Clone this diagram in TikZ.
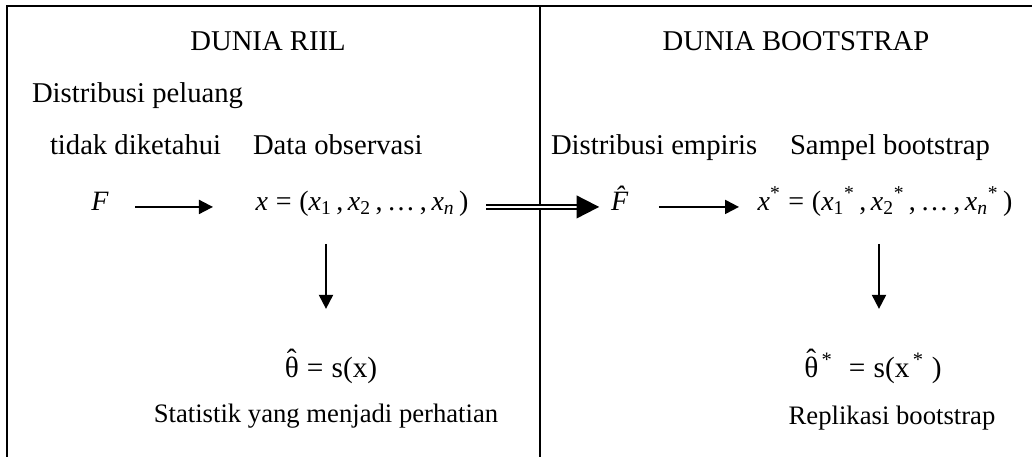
\documentclass[tikz,border=0pt]{standalone}
\usepackage{fontspec}
\setmainfont{Liberation Serif}
\usetikzlibrary{arrows.meta,positioning}
\tikzset{
  txt/.style={
    inner sep=0pt, outer sep=0pt,
    anchor=base,
    font=\fontsize{21.5}{25}\selectfont
  },
  note/.style={txt, font=\fontsize{20}{24}\selectfont},
  eq/.style={txt, font=\fontsize{21}{25}\selectfont},
  arr/.style={line width=1.5pt, -{Triangle[length=10.5pt,width=10.5pt]}},
  dblarr/.style={
    double, double distance=2pt, line width=1.5pt,
    -{Triangle[length=17pt,width=17pt]}
  },
  frame/.style={line width=1.5pt}
}
\newcommand{\ix}{\textit{x}}
\newcommand{\thetahat}{\accent"02C6 θ}

\begin{document}
\begin{tikzpicture}[x=0.75pt, y=-0.75pt]
    \useasboundingbox (0,0) rectangle (1032,457);

    %% Frame
    \draw[frame] (1032,6) -- (7,6) -- (7,457);
    \draw[frame] (540,6) -- (540,457);

    %% Headers
    \node[txt] (realworld) at (268,50) {DUNIA RIIL};
    \node[txt] (bootworld) at (796,50) {DUNIA BOOTSTRAP};
    \node[txt, anchor=base west] (distrib) at (32,102) {Distribusi peluang};
    \node[txt, anchor=base west] (unknown) at (50,154) {tidak diketahui};
    \node[txt, anchor=base west] (dataobs) at (253,154) {Data observasi};
    \node[txt, anchor=base west] (empdist) at (551,154) {Distribusi empiris};
    \node[txt, anchor=base west] (bootsample) at (790,154) {Sampel bootstrap};

    %% Real world
    \node[eq] (F) at (100,210) {\textit{F}};
    \node[eq] (xobs) at (362,210) {\ix\;=\;(\ix\textsubscript{1}\,,\,\ix\textsubscript{2}\,,\,…\,,\,\ix\textsubscript{\textit{n}}\,)};
    \node[eq, font=\fontsize{22}{25}\selectfont] (theta) at (331,377) {\thetahat\;=\;s(x)};
    \node[note] (stat) at (326,422) {Statistik yang menjadi perhatian};

    %% Bootstrap world
    \node[eq] (Fhat) at (625,210) {\textit{\^{F}}};
    \node[eq] (xstar) at (885,210) {\ix\textsuperscript{*}\;=\;(\ix\textsubscript{1}\textsuperscript{*}\,,\,\ix\textsubscript{2}\textsuperscript{*}\,,\,…\,,\,\ix\textsubscript{\textit{n}}\textsuperscript{*}\,)};
    \node[eq, font=\fontsize{22}{25}\selectfont] (thetastar) at (873,377) {\thetahat\textsuperscript{\,*}\;\;=\;s(x\textsuperscript{\,*}\;)};
    \node[note] (repl) at (892,424) {Replikasi bootstrap};

    %% Edges
    \draw[arr, shorten <=20pt, shorten >=32pt] (F.mid east) -- (xobs.mid west);
    \draw[dblarr, shorten <=13.5pt, shorten >=9pt] (xobs.mid east) -- (Fhat.mid west);
    \draw[arr, shorten <=15pt, shorten >=14pt] (Fhat.mid east) -- (xstar.mid west);
    \draw[arr, shorten <=21pt, shorten >=30.5pt] ([xshift=-3.75pt]xobs.south -| theta.north) -- ([xshift=-3.75pt]theta.north);
    \draw[arr, shorten <=21pt, shorten >=30.5pt] ([xshift=4.5pt]xstar.south -| thetastar.north) -- ([xshift=4.5pt]thetastar.north);
\end{tikzpicture}
\end{document}
